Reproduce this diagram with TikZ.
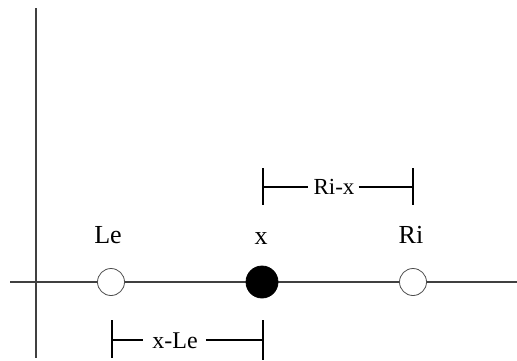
\documentclass[tikz,border=0pt]{standalone}
\usepackage{fontspec}
\setmainfont{Liberation Serif}
\usetikzlibrary{calc}
\begin{document}
\begin{tikzpicture}[x=1pt,y=-1pt,
  axis/.style={line width=1.3pt,black!75},
  tick/.style={line width=2.2pt,black},
  bar/.style={line width=1.6pt,black},
  pt/.style={circle,draw,line width=0.8pt,black!70,minimum size=27pt,inner sep=0pt},
  lbl/.style={font=\fontsize{26}{29}\selectfont,anchor=base,inner sep=0pt},
  dist/.style={font=\fontsize{23}{26}\selectfont,anchor=base,inner sep=0pt}]
\useasboundingbox (0,0) rectangle (517,360);
\coordinate (xl) at (10,282);
\coordinate (xr) at (517,282);
\coordinate (yt) at (36,8);
\coordinate (yb) at (36,358);
\draw[axis] (xl) -- (xr);
\draw[axis] (yt) -- (yb);
\node[pt,fill=white] (Le) at (111,282) {};
\node[pt,fill=black,draw=black,minimum size=32pt] (X) at (262,282) {};
\node[pt,fill=white] (Ri) at (413,282) {};
\node[lbl] (LeL) at (108,243) {Le};
\node[lbl] (XL) at (261,244) {x};
\node[lbl] (RiL) at (411,243) {Ri};
% Ri-x bracket
\coordinate (a1) at (263,168); \coordinate (a2) at (263,205);
\coordinate (b1) at (413,168); \coordinate (b2) at (413,205);
\coordinate (am) at (263,187); \coordinate (bm) at (413,187);
\draw[tick] (a1) -- (a2);
\draw[tick] (b1) -- (b2);
\node[dist] (RX) at (334,194) {Ri-x};
\draw[bar] (am) -- ($(RX.west|-am)+(-5,0)$);
\draw[bar] ($(RX.east|-bm)+(4,0)$) -- (bm);
% x-Le bracket
\coordinate (c1) at (112,320); \coordinate (c2) at (112,358);
\coordinate (d1) at (263,320); \coordinate (d2) at (263,360);
\coordinate (cm) at (112,340); \coordinate (dm) at (263,340);
\draw[tick] (c1) -- (c2);
\draw[tick] (d1) -- (d2);
\node[dist,font=\fontsize{24}{27}\selectfont] (XLe) at (175,348) {x-Le};
\draw[bar] (cm) -- ($(XLe.west|-cm)+(-9,0)$);
\draw[bar] ($(XLe.east|-dm)+(8,0)$) -- (dm);
\end{tikzpicture}
\end{document}
